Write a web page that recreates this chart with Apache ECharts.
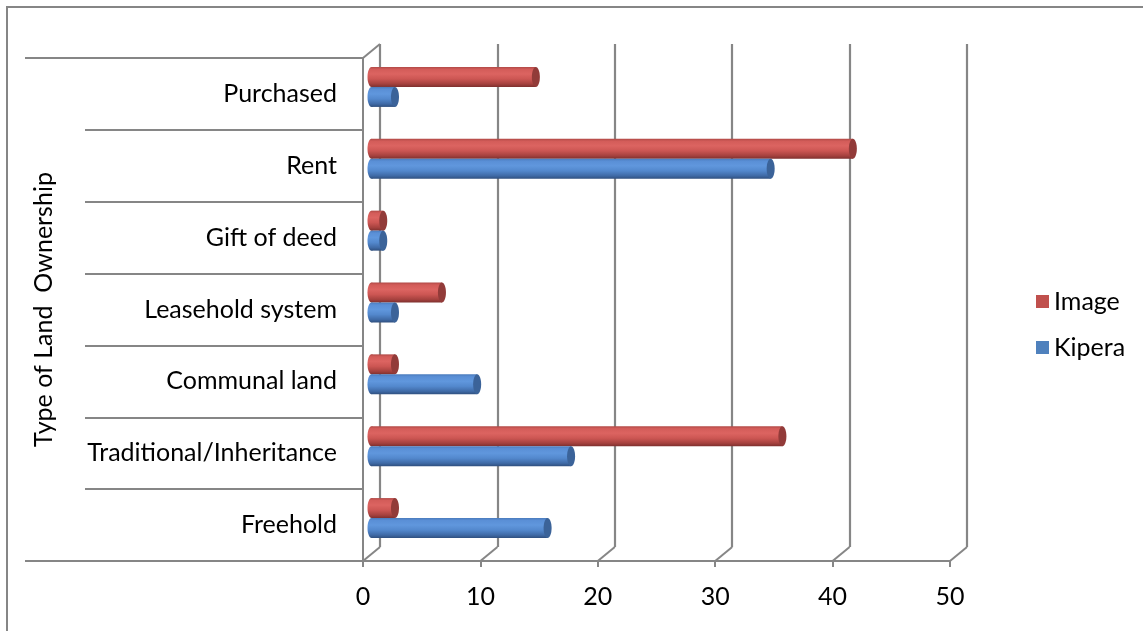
<!DOCTYPE html>
<html>
<head>
<meta charset="utf-8">
<title>Type of Land Ownership</title>
<script src="https://cdn.jsdelivr.net/npm/echarts@6/dist/echarts.min.js"></script>
<style>
  html, body { margin: 0; padding: 0; background: #ffffff; }
  #chart { width: 1143px; height: 631px; }
</style>
</head>
<body>
<div id="chart"></div>
<script>
// Land ownership categories, listed top to bottom
const categories = ['Purchased', 'Rent', 'Gift of deed', 'Leasehold system', 'Communal land', 'Traditional/Inheritance', 'Freehold'];
const imageValues = [14, 41, 1, 6, 2, 35, 2];
const kiperaValues = [2, 34, 1, 2, 9, 17, 15];
const xTicks = [0, 10, 20, 30, 40, 50];
const seriesNames = ['Image', 'Kipera'];

const FONT = 'Lato, "Noto Sans", sans-serif';
const FONT_SIZE = 25;
const LINE = '#868686';
// depth of the 3-D box (back wall offset from the front plane)
const DEPTH_X = 17, DEPTH_Y = 14;
const BAR_H = 20;

const palettes = {
  Image: {
    base: '#c0504d',
    stops: [
      { offset: 0, color: '#b04946' },
      { offset: 0.12, color: '#d35c59' },
      { offset: 0.35, color: '#dc6461' },
      { offset: 0.6, color: '#cc5653' },
      { offset: 0.85, color: '#a5413e' },
      { offset: 1, color: '#7e302e' }
    ],
    cap: '#923b39'
  },
  Kipera: {
    base: '#4f81bd',
    stops: [
      { offset: 0, color: '#4b7cbd' },
      { offset: 0.12, color: '#5a8fd6' },
      { offset: 0.35, color: '#6097dd' },
      { offset: 0.6, color: '#5388cd' },
      { offset: 0.85, color: '#3f6aa6' },
      { offset: 1, color: '#2f4f7e' }
    ],
    cap: '#3b6399'
  }
};

function cylinderRender(seriesIdx) {
  const pal = palettes[seriesNames[seriesIdx]];
  return function (params, api) {
    const v = api.value(0);
    const cat = api.value(1);
    const start = api.coord([0, cat]);
    const end = api.coord([v, cat]);
    const y = start[1] - BAR_H + seriesIdx * BAR_H;
    const cy = y + BAR_H / 2;
    const grad = { type: 'linear', x: 0, y: 0, x2: 0, y2: 1, colorStops: pal.stops };
    return {
      type: 'group',
      children: [
        { type: 'ellipse', shape: { cx: start[0], cy: cy, rx: 4, ry: BAR_H / 2 }, style: { fill: grad } },
        { type: 'rect', shape: { x: start[0], y: y, width: Math.max(end[0] - start[0], 0), height: BAR_H }, style: { fill: grad } },
        { type: 'ellipse', shape: { cx: end[0], cy: cy, rx: 4, ry: BAR_H / 2 }, style: { fill: pal.cap } }
      ]
    };
  };
}

// floor diagonals at each tick, plus the left-wall top edge and long category rules
function frameRender(params, api) {
  const n = categories.length;
  const band = api.size([0, 1])[1];
  const x = api.coord([api.value(0), 0])[0];
  const topY = api.coord([0, 0])[1] - band / 2;
  const bottomY = api.coord([0, n - 1])[1] + band / 2;
  const style = { stroke: LINE, lineWidth: 2 };
  const children = [
    { type: 'line', shape: { x1: x, y1: bottomY, x2: x + DEPTH_X, y2: bottomY - DEPTH_Y }, style: style }
  ];
  if (params.dataIndex === 0) {
    children.push({ type: 'line', shape: { x1: x, y1: topY, x2: x + DEPTH_X, y2: topY - DEPTH_Y }, style: style });
    children.push({ type: 'line', shape: { x1: x - 338, y1: topY, x2: x, y2: topY }, style: style });
    children.push({ type: 'line', shape: { x1: x - 338, y1: bottomY, x2: x, y2: bottomY }, style: style });
  }
  return { type: 'group', children: children };
}

const chart = echarts.init(document.getElementById('chart'), null, { renderer: 'canvas' });

chart.setOption({
  animation: false,
  backgroundColor: '#ffffff',
  textStyle: { fontFamily: FONT },
  graphic: [{
    type: 'rect',
    shape: { x: 7, y: 7, width: 1200, height: 700 },
    style: { fill: 'none', stroke: LINE, lineWidth: 2 },
    z: -1
  }],
  legend: {
    orient: 'vertical',
    left: 1031,
    top: 284,
    itemWidth: 13,
    itemHeight: 13,
    itemGap: 21,
    icon: 'rect',
    data: ['Image', 'Kipera'],
    textStyle: { fontSize: FONT_SIZE, color: '#000', fontFamily: FONT, lineHeight: 25 }
  },
  grid: [
    { left: 363, top: 58, width: 587, height: 503 },                               // front plane
    { left: 363 + DEPTH_X, top: 58 - DEPTH_Y, width: 587, height: 503 },           // back wall
    { left: 363 + DEPTH_X / 2, top: 58 - DEPTH_Y / 2, width: 587, height: 503 }    // bar depth
  ],
  xAxis: [
    {
      gridIndex: 0, type: 'value', min: 0, max: 50, interval: 10,
      axisLine: { show: true, onZero: false, lineStyle: { color: LINE, width: 2 } },
      axisTick: { show: true, length: 6, lineStyle: { color: LINE, width: 2 } },
      axisLabel: { fontSize: FONT_SIZE, color: '#000', margin: 23, fontFamily: FONT },
      splitLine: { show: false }
    },
    {
      gridIndex: 1, type: 'value', min: 0, max: 50, interval: 10,
      axisLine: { show: false }, axisTick: { show: false }, axisLabel: { show: false },
      splitLine: { show: true, lineStyle: { color: LINE, width: 2.2 } }
    },
    { gridIndex: 2, type: 'value', min: 0, max: 50, interval: 10, show: false, splitLine: { show: false } }
  ],
  yAxis: [
    {
      gridIndex: 0, type: 'category', data: categories, inverse: true,
      axisLine: { show: true, onZero: false, lineStyle: { color: LINE, width: 2 } },
      axisTick: { show: true, length: 278, lineStyle: { color: LINE, width: 2 } },
      axisLabel: { fontSize: FONT_SIZE, color: '#000', margin: 26, fontFamily: FONT, padding: [4, 0, 0, 0] },
      splitLine: { show: false },
      name: 'Type of Land  Ownership',
      nameLocation: 'middle',
      nameGap: 307,
      nameTextStyle: { fontSize: FONT_SIZE, color: '#000', fontFamily: FONT }
    },
    { gridIndex: 1, type: 'category', data: categories, inverse: true, show: false },
    { gridIndex: 2, type: 'category', data: categories, inverse: true, show: false }
  ],
  series: [
    {
      name: 'frame', type: 'custom', xAxisIndex: 0, yAxisIndex: 0,
      data: xTicks.map(function (v) { return [v, categories.length - 1]; }),
      renderItem: frameRender, silent: true, z: 1
    },
    {
      name: 'Image', type: 'custom', xAxisIndex: 2, yAxisIndex: 2,
      itemStyle: { color: palettes.Image.base },
      encode: { x: 0, y: 1 },
      data: imageValues.map(function (v, i) { return [v, i]; }),
      renderItem: cylinderRender(0), z: 5
    },
    {
      name: 'Kipera', type: 'custom', xAxisIndex: 2, yAxisIndex: 2,
      itemStyle: { color: palettes.Kipera.base },
      encode: { x: 0, y: 1 },
      data: kiperaValues.map(function (v, i) { return [v, i]; }),
      renderItem: cylinderRender(1), z: 5
    }
  ]
});
</script>
</body>
</html>
